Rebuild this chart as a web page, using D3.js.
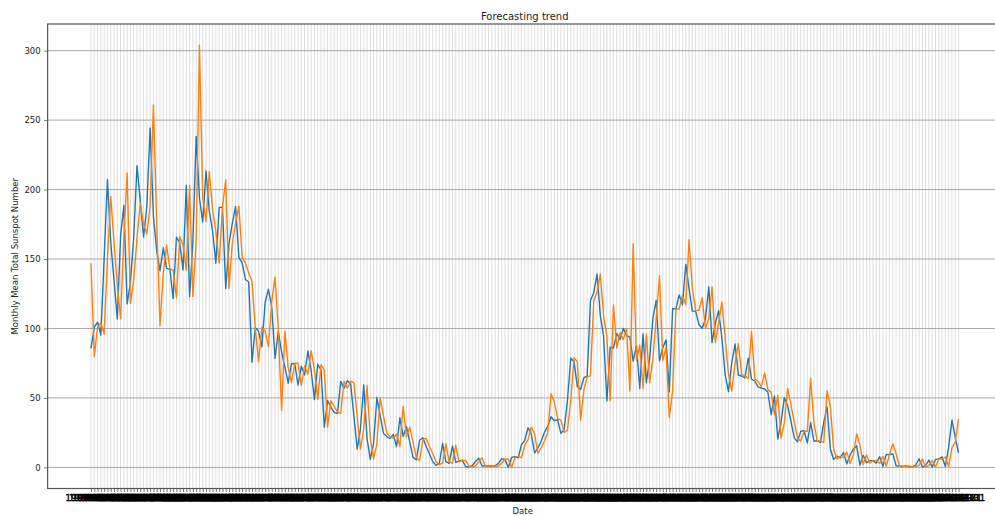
<!DOCTYPE html>
<html>
<head>
<meta charset="utf-8">
<script src="https://cdn.jsdelivr.net/npm/d3@7"></script>
<style>
  body { margin: 0; background: #fff; }
  svg { display: block; }
  text { font-family: "DejaVu Sans", sans-serif; }
</style>
</head>
<body>
<svg id="chart" width="995" height="516"></svg>
<script>
// Monthly mean total sunspot number, Jan 1999 .. Jan 2021 (one value per month)
const actual = [
  85.7, 100.9, 104.5, 95.2, 150.2, 207.2, 162.3, 135.0, 106.8, 166.3, 188.6, 117.7,
  133.1, 165.7, 217.1, 191.5, 165.9, 188.0, 244.3, 180.5, 156.0, 141.6, 158.1, 143.3,
  142.6, 121.5, 165.8, 161.7, 142.1, 202.9, 123.0, 161.5, 238.2, 194.1, 176.6, 213.4,
  184.6, 170.2, 147.1, 186.9, 187.5, 128.8, 161.0, 175.6, 187.9, 151.2, 147.2, 135.3,
  133.5, 75.7, 100.7, 97.9, 86.8, 118.7, 128.3, 115.4, 78.5, 97.8, 82.9, 72.2,
  60.6, 74.6, 74.8, 59.2, 72.8, 66.5, 83.8, 69.7, 48.8, 74.2, 70.1, 28.9,
  48.1, 43.5, 39.6, 38.7, 61.9, 56.8, 62.4, 60.5, 37.2, 13.2, 27.5, 59.3,
  20.9, 5.7, 17.3, 50.3, 37.2, 24.5, 22.2, 20.8, 23.7, 14.9, 35.7, 22.3,
  29.3, 18.4, 7.2, 5.4, 19.5, 21.3, 15.1, 9.8, 4.0, 1.5, 2.8, 17.3,
  4.1, 2.9, 15.5, 3.6, 4.6, 5.2, 0.6, 0.3, 1.2, 4.2, 6.6, 1.0,
  1.3, 1.2, 0.6, 1.2, 2.9, 6.3, 5.5, 0.0, 7.1, 7.7, 6.9, 16.3,
  19.5, 28.5, 24.0, 10.4, 13.9, 18.8, 25.2, 29.6, 36.4, 33.6, 34.4, 24.5,
  27.3, 48.3, 78.6, 76.1, 58.2, 56.1, 64.5, 65.8, 120.1, 125.7, 139.1, 109.3,
  94.4, 47.8, 86.6, 85.9, 96.5, 92.0, 100.1, 94.8, 93.7, 76.5, 87.6, 56.8,
  96.1, 60.9, 78.3, 107.3, 120.2, 76.7, 86.2, 91.8, 54.5, 114.4, 113.9, 124.2,
  117.0, 146.1, 128.7, 112.5, 112.5, 102.9, 100.2, 106.9, 130.0, 90.0, 103.6, 112.9,
  93.0, 66.7, 54.5, 75.3, 88.8, 66.5, 65.8, 64.4, 78.6, 63.6, 62.2, 58.0,
  57.0, 56.4, 54.1, 37.9, 51.5, 20.5, 32.4, 50.2, 44.6, 33.4, 21.4, 18.5,
  26.1, 26.4, 17.7, 32.3, 18.9, 19.2, 17.8, 32.6, 43.6, 13.2, 5.7, 8.2,
  6.8, 10.7, 2.5, 8.9, 13.1, 15.6, 1.6, 8.7, 3.3, 4.9, 4.9, 3.1,
  7.7, 0.8, 9.4, 9.1, 9.9, 1.2, 0.9, 0.5, 1.1, 0.4, 0.5, 1.5,
  6.2, 0.2, 1.5, 5.2, 0.2, 5.8, 6.1, 7.5, 0.6, 14.4, 34.0, 21.8,
  10.4
];

// Model forecast for the same months
const forecast = [
  147, 80, 101, 104, 96, 150, 195, 162, 131, 107, 166, 212,
  118, 135, 165, 190, 175, 168, 188, 261, 175, 102, 140, 160,
  143, 142, 122, 166, 160, 142, 203, 123, 162, 304, 194, 177,
  213, 185, 170, 147, 187, 207, 129, 161, 176, 188, 151, 147,
  140, 134, 100, 76, 101, 98, 87, 119, 137, 100, 41, 98,
  72, 61, 75, 75, 59, 73, 67, 84, 70, 49, 74, 70,
  29, 48, 44, 40, 39, 62, 57, 62, 61, 37, 13, 28,
  59, 21, 6, 17, 50, 37, 25, 22, 21, 24, 15, 44,
  22, 29, 18, 7, 5, 20, 21, 15, 10, 4, 2, 3,
  17, 4, 3, 16, 4, 5, 5, 1, 0.3, 1, 4, 7,
  1, 1, 1, 0.6, 1, 3, 6, 6, 0, 7, 8, 7,
  16, 20, 29, 24, 10, 14, 19, 25, 53, 47, 35, 34,
  25, 27, 48, 79, 76, 34, 56, 65, 66, 120, 126, 139,
  109, 94, 48, 117, 86, 97, 92, 100, 55, 161, 77, 88,
  57, 96, 61, 78, 107, 138, 77, 86, 36, 55, 114, 114,
  124, 117, 164, 129, 113, 113, 122, 100, 107, 130, 90, 104,
  119, 93, 67, 55, 75, 89, 67, 66, 64, 98, 64, 62,
  58, 68, 56, 54, 38, 52, 21, 32, 57, 45, 33, 21,
  19, 26, 26, 64, 32, 19, 19, 18, 55, 44, 13, 6,
  8, 7, 11, 3, 9, 24, 16, 2, 9, 3, 5, 5,
  3, 8, 1, 9, 17, 10, 1, 1, 0.5, 1, 0.4, 0.5,
  1.5, 6, 0.2, 1.5, 5, 0.2, 6, 6, 7.5, 0.6, 14, 18,
  35
];

const yTicks = [0, 50, 100, 150, 200, 250, 300];
const firstMonth = new Date(1999, 0, 1);
const chartTitle = "Forecasting trend";
const xTitle = "Date";
const yTitle = "Monthly Mean Total Sunspot Number";

// Month-end date strings used as category labels on the x axis
const fmt = d3.timeFormat("%Y-%m-%d");
const dateLabels = d3.range(actual.length).map(i =>
  fmt(d3.timeDay.offset(d3.timeMonth.offset(firstMonth, i + 1), -1)));

const svg = d3.select("#chart");
const n = actual.length;

const x = d3.scaleLinear().domain([0, n - 1]).range([91, 958.5]);
const xPad = (n - 1) * 0.05;
const frameL = x(-xPad), frameR = x(n - 1 + xPad);

const all = actual.concat(forecast);
const yMin = d3.min(all), yMax = d3.max(all);
const yPad = (yMax - yMin) * 0.05;
const frameT = 24, frameB = 488.5;
const y = d3.scaleLinear().domain([yMin - yPad, yMax + yPad]).range([frameB, frameT]);

const plot = svg.append("g");

// grid: one vertical line per month, horizontal lines on the value ticks
plot.append("g").selectAll("line").data(d3.range(n)).join("line")
  .attr("x1", i => x(i)).attr("x2", i => x(i))
  .attr("y1", frameT).attr("y2", frameB)
  .attr("stroke", "#b0b0b0").attr("stroke-opacity", 0.55).attr("stroke-width", 0.8);

plot.append("g").selectAll("line").data(yTicks).join("line")
  .attr("x1", frameL).attr("x2", frameR)
  .attr("y1", d => y(d)).attr("y2", d => y(d))
  .attr("stroke", "#a8a8a8").attr("stroke-width", 1);

// series
const line = d3.line().x((d, i) => x(i)).y(d => y(d));
plot.append("path").datum(actual)
  .attr("d", line).attr("fill", "none")
  .attr("stroke", "#1f77b4").attr("stroke-width", 1.4)
  .attr("stroke-linejoin", "round");
plot.append("path").datum(forecast)
  .attr("d", line).attr("fill", "none")
  .attr("stroke", "#ff7f0e").attr("stroke-width", 1.4)
  .attr("stroke-linejoin", "round");

// frame
svg.append("rect")
  .attr("x", frameL).attr("y", frameT)
  .attr("width", frameR - frameL).attr("height", frameB - frameT)
  .attr("fill", "none").attr("stroke", "#555").attr("stroke-width", 1.2);

// axes
const yAxis = svg.append("g").attr("transform", `translate(${frameL},0)`)
  .call(d3.axisLeft(y).tickValues(yTicks).tickSize(3.5).tickPadding(3.5));
const xAxis = svg.append("g").attr("transform", `translate(0,${frameB})`)
  .call(d3.axisBottom(x).tickValues(d3.range(n))
    .tickFormat(i => dateLabels[i]).tickSize(3.5).tickPadding(3));
[yAxis, xAxis].forEach(g => {
  g.select(".domain").remove();
  g.selectAll(".tick line").attr("stroke", "#555").attr("stroke-width", 0.8);
  g.selectAll(".tick text").attr("fill", "#222")
    .style("font-family", "'DejaVu Sans', sans-serif").style("font-size", "8.5px");
});
xAxis.selectAll(".tick text").attr("fill", "#000")
  .attr("stroke", "#000").attr("stroke-width", 0.35).style("font-size", "9px");

// titles
const cx = (frameL + frameR) / 2;
svg.append("text").attr("x", cx).attr("y", 19.5)
  .attr("text-anchor", "middle").attr("fill", "#222")
  .style("font-size", "10px").text(chartTitle);
svg.append("text").attr("x", cx - 2).attr("y", 514)
  .attr("text-anchor", "middle").attr("fill", "#222")
  .style("font-size", "8.5px").text(xTitle);
svg.append("text")
  .attr("transform", `translate(18,${(frameT + frameB) / 2}) rotate(-90)`)
  .attr("text-anchor", "middle").attr("fill", "#222")
  .style("font-size", "8.5px").text(yTitle);
</script>
</body>
</html>
